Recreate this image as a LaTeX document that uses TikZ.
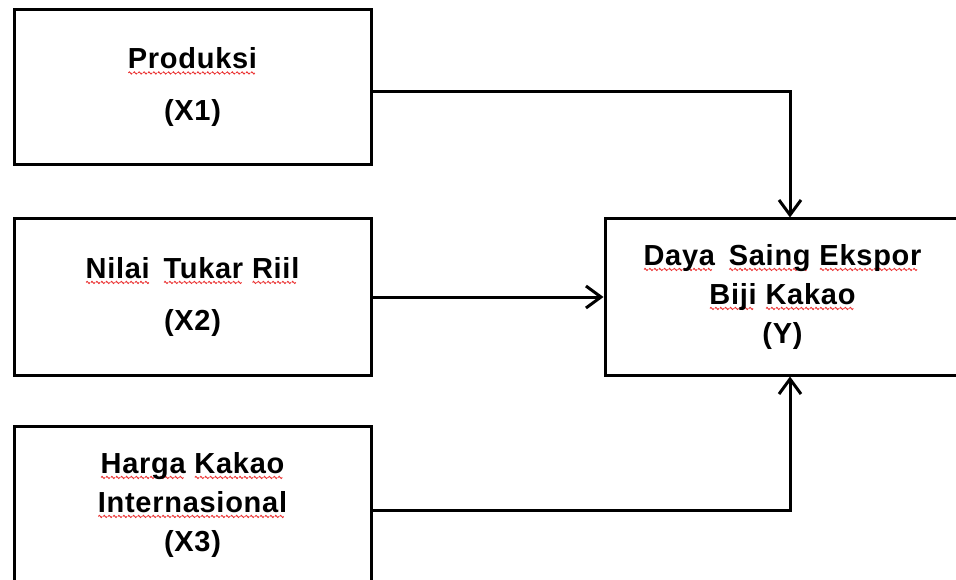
\documentclass[tikz,border=0pt]{standalone}
\usepackage{fontspec}
\setmainfont{Liberation Sans}
\usetikzlibrary{arrows.meta}
\definecolor{spell}{RGB}{235,50,50}
\newsavebox\wavebox
\newcommand\sq[1]{\setbox2\hbox{#1}\leavevmode\rlap{\raisebox{-5.5pt}{\hbox to \wd2{\leaders\copy\wavebox\hfil}}}\box2\relax}
\tikzset{
  box/.style={draw=black, line width=3pt, fill=white, align=center, inner sep=0pt,
    font=\fontsize{29}{39}\selectfont\bfseries\addfontfeature{LetterSpace=2.5}},
  link/.style={draw=black, line width=3pt, -{Straight Barb[length=15pt,width=22pt]}}
}
\begin{document}
\sbox\wavebox{\begin{pgfpicture}\pgfsetstrokecolor{spell}\pgfsetlinewidth{0.9pt}%
\pgfpathmoveto{\pgfpoint{0pt}{0pt}}%
\pgfpathsine{\pgfpoint{1pt}{1.1pt}}\pgfpathcosine{\pgfpoint{1pt}{-1.1pt}}%
\pgfpathsine{\pgfpoint{1pt}{-1.1pt}}\pgfpathcosine{\pgfpoint{1pt}{1.1pt}}%
\pgfusepath{stroke}\end{pgfpicture}}%
\begin{tikzpicture}[x={(1pt,0)}, y={(0,-1pt)}]
\clip (0,0) rectangle (956,580);
\fill[white] (0,0) rectangle (956,580);
\node[box, minimum width=357pt, minimum height=155pt] (X1) at (192.5,87.5)
  {\sq{Produksi}\\[13pt](X1)};
\node[box, minimum width=357pt, minimum height=156pt] (X2) at (192.5,297)
  {\sq{Nilai}\hspace{5pt} \sq{Tukar} \sq{Riil}\\[13pt](X2)};
\node[box, minimum width=357pt, minimum height=158pt] (X3) at (192.5,505)
  {\sq{Harga} \sq{Kakao}\\\sq{Internasional}\\(X3)};
\node[box, minimum width=355pt, minimum height=156pt] (Y) at (782.5,297)
  {\sq{Daya}\hspace{5pt} \sq{Saing} \sq{Ekspor}\\\sq{Biji} \sq{Kakao}\\(Y)};
\draw[link] ([yshift=-4.5pt]X1.east) -| ([xshift=7.5pt]Y.north);
\draw[link] (X2.east) -- (Y.west);
\draw[link] ([yshift=-5pt]X3.east) -| ([xshift=7.5pt]Y.south);
\end{tikzpicture}
\end{document}
